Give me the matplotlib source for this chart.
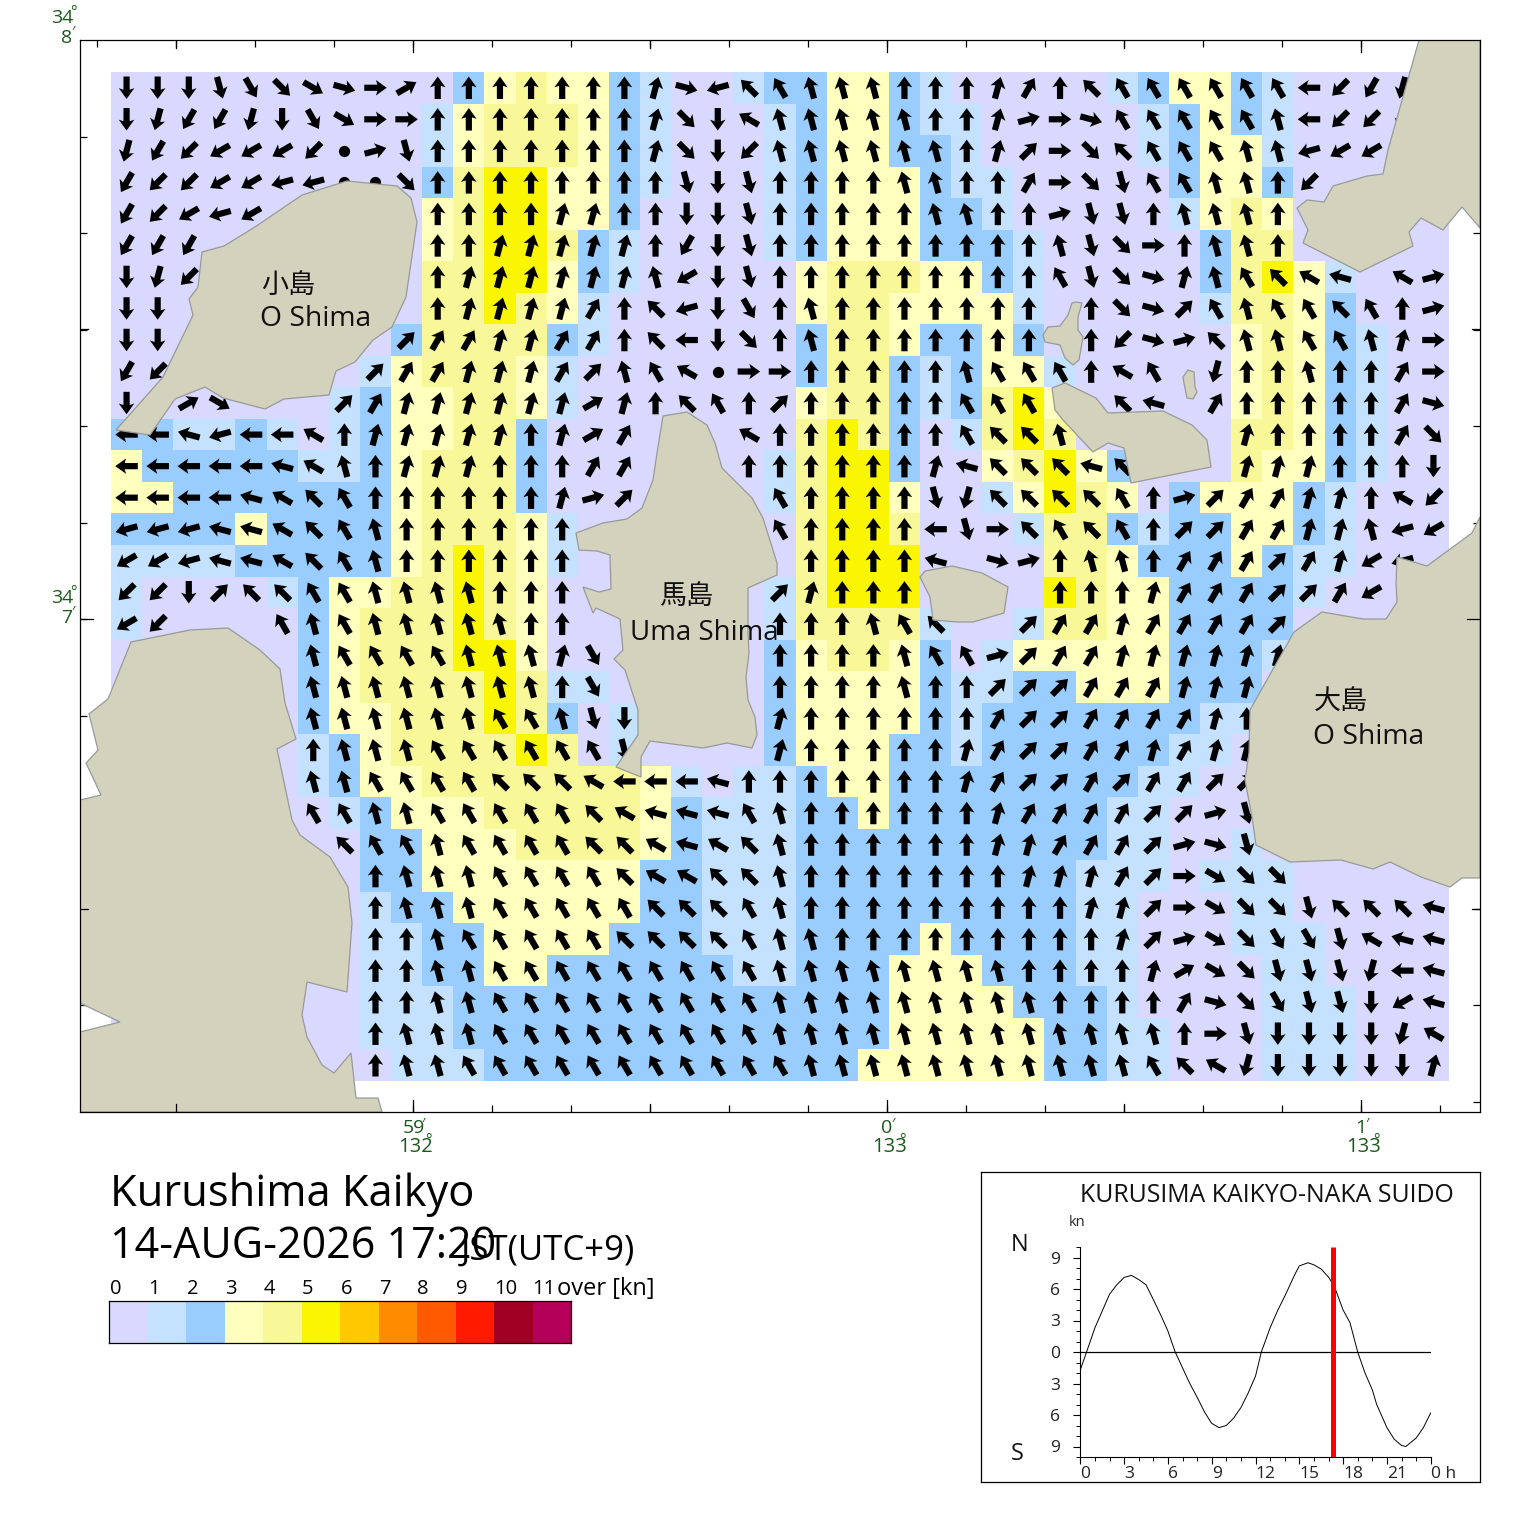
import numpy as np
import matplotlib
matplotlib.use("Agg")
import matplotlib.pyplot as plt
from matplotlib.colors import ListedColormap, BoundaryNorm
from matplotlib.patches import Polygon

plt.rcParams['font.family'] = ['Open Sans', 'Noto Sans CJK JP', 'DejaVu Sans']

W, H = 1520, 1533

# speed class of each cell (0 = 0-1 kn, 1 = 1-2 kn, ...)
speed_rows = [
    "00000000000" "2" "3" "4" "33" "2" "1" "00" "1" "22" "33" "2" "1" "00000" "1" "2" "33" "2" "1" "00000",
    "0000000000" "1" "3" "44" "4" "3" "2" "1" "000" "1" "2" "33" "2" "1" "1" "0" "0000" "1" "2" "3" "2" "1" "00000",
    "0000000000" "1" "3" "44" "4" "3" "2" "1" "000" "1" "2" "33" "22" "1" "0" "0000" "1" "2" "33" "1" "00000",
    "0000000000" "2" "4" "55" "3" "3" "2" "1" "000" "1" "2" "333" "2" "11" "00000" "2" "33" "2" "00000",
    "0000000000" "3" "4" "55" "33" "2" "0000" "1" "2" "333" "22" "1" "00000" "1" "3" "4" "3" "00000",
    "0000000000" "3" "4" "55" "4" "2" "1" "0000" "1" "2" "333" "222" "1" "00000" "2" "44" "00000",
    "0000000000" "44" "55" "3" "2" "1" "00000" "3" "444" "33" "2" "1" "00000" "2" "4" "5" "3" "1" "000",
    "0000000000" "44" "5" "4" "3" "1" "000000" "3" "44" "3333" "1" "00000" "1" "44" "3" "2" "000",
    "000000000" "2" "4444" "2" "1" "000000" "2" "44" "3" "22" "3" "2" "000000" "3" "4" "3" "2" "1" "00",
    "00000000" "1" "3" "444" "3" "1" "0000000" "2" "44" "2" "1" "2" "33" "1" "00000" "3" "4" "3" "2" "1" "00",
    "0000000" "1" "2" "33" "44" "3" "1" "0000000" "3" "44" "2" "1" "2" "4" "5" "3" "00000" "3" "4" "3" "2" "1" "00",
    "22" "11" "2" "1" "0" "1" "2" "33" "44" "2" "00000000" "4" "5" "4" "2" "0" "1" "4" "5" "4" "00000" "44" "3" "2" "1" "00",
    "3" "22222" "11" "2" "3" "444" "2" "0000000" "1" "4" "55" "2" "00" "3" "4" "5" "3" "2" "000" "4" "33" "2" "1" "00",
    "33" "2222222" "3" "444" "2" "0000000" "1" "4" "55" "3" "00" "1" "3" "5" "4" "3" "0" "2" "333" "2" "1" "000",
    "2222" "3" "2222" "3" "444" "3" "1" "000000" "0" "4" "55" "4" "000" "1" "44" "2" "1" "22" "33" "2" "1" "000",
    "1111" "22222" "3" "4" "5" "4" "3" "1" "000000" "0" "4" "555" "000" "0" "44" "3" "2" "22" "3" "2" "11" "000",
    "1" "0000" "1" "2" "33" "44" "5" "4" "3" "0" "000000" "1" "4" "555" "000" "0" "5" "4" "33" "2222" "1" "0000",
    "1" "00000" "2" "3" "444" "5" "4" "3" "0" "000000" "1" "4444" "1" "00" "1" "44" "33" "2222" "00000",
    "000000" "2" "3" "444" "55" "3" "0" "000000" "2" "3" "44" "3" "2" "0" "1" "33333" "222" "1" "00000",
    "000000" "2" "3" "4444" "5" "4" "11" "00000" "2" "3333" "2" "11" "22" "333" "222" "000000",
    "000000" "2" "33" "444" "5" "4" "2" "0" "1" "0000" "2" "3333" "2" "1" "2222222" "11" "000000",
    "000000" "1" "2" "3" "4444" "5" "4" "0" "1" "0000" "2" "333" "22" "1" "222222" "11" "0" "000000",
    "000000" "1" "2" "33" "4444444" "3" "1" "0" "11" "2" "33" "22222222" "11" "00000000",
    "0000000" "1" "2" "333" "44444" "3" "2" "111" "22" "3" "2222222" "11" "000000000",
    "00000000" "22" "333" "4444" "3" "2" "111" "2222222222" "11" "00" "1" "000000",
    "00000000" "22" "3333333" "22" "111" "222222222" "111" "0" "111" "00000",
    "00000000" "1" "22" "333333" "22" "111" "222222222" "11" "000" "11" "00000",
    "00000000" "11" "22" "3333" "222" "111" "2222" "3" "2222" "11" "000" "111" "0000",
    "00000000" "11" "22" "33" "222222" "11" "222" "333" "222" "11" "0000" "11" "0000",
    "00000000" "111" "2222222222" "2222" "3333" "222" "1" "0000" "111" "000",
    "00000000" "111" "2222222222" "2222" "33333" "22" "11" "000" "111" "000",
    "000000000" "111" "222222222" "222" "333333" "22" "11" "000" "111" "000",
]

# flow direction of each cell: a = north, then 15 degrees per letter clockwise
# '.' no arrow, '*' slack water dot
dir_rows = [
    "mmmlkjihgeaaaa" "aaabhrvwxxxaaab" "cavwwwwwwspon.",
    "mnoonmkiggaaaa" "aaabjmuxxxxxaab" "fghwwwwwxsppn.",
    "nopqqqp*flaaaa" "aaabjmpxxxxxxab" "dgjvwwwxxrqq..",
    "oppqqrr**jaaaa" "aaaalmlaaaaxxaa" "cgjlwwxxap....",
    "opqrq.....aaaa" "bbaammlaaaaaxxa" "afllaxxxa.....",
    "ooo.......aabb" "bbbaomlaaaaaaaa" "axljgaxxa.....",
    "mnp.......abbb" "bbbxqmlaaaaaaaa" "awljhbxwvut.uf",
    "mm........abbb" "bcavrmkaxaaaaaa" "a.ajhdwxwwvwaf",
    "mm.......dccbb" "ccavsmjaxaaaaaa" "a.aphfvxxwwxbg",
    "op......dccbbb" "cdxwu*ggaaaaaxw" "wwauw.naaxaacg",
    "m.ei...dcbbbbb" "bebavwadaaaaaww" "w..vt.caaaaach",
    "sstrssuabbbbba" "bec...uaaaaaawv" "vx.....baaaacj",
    "ssssstuxabbbaa" "acc...aaaaaabtv" "vvtv...bbbaaam",
    "sssstuvwaaaaaa" "bfd....waaaalnv" "vvvwafdccbbaup",
    "rrrttuvwxaaaaa" "a......waaaaslg" "vwvwaddccbbxrq",
    "qqrttuvwxaaaaa" "a.......aaaat.h" "faxxacccdcbqr.",
    "ppmdvvwwxxxxaa" "a......dbaaa..." ".aaabcccddcq..",
    "qp...wxwxxxxxa" "a......aaaxwv.." "dccbccccd.....",
    "......xwwwwxxx" "bk.....aaaaxwwf" "dccbbbbbb.....",
    "......xxxxxxxx" "ak.....aaaaxaad" "ddcccbbb......",
    "......xxxxxxww" "xlm....baaaaaac" "ddccccba......",
    "......axxxwwww" "wwl....baaaaabc" "ddccbcbb......",
    "......xxwwwwvv" "vussstaaaaaaabc" "ddcdccdd......",
    "......wwxxwwww" "wvutttwxaaaaaab" "ccccddfl......",
    ".......vwwxwww" "wvvutuvxaaaaaab" "bcccdfhl......",
    "........axxxww" "wwvuuvvxaaaaaaa" "bbbcdgijj.....",
    "........axxxww" "wwwvvvwxaaaaaaa" "aabbdgijjlvvvt",
    "........aaxwww" "wwvvvvwxxaaaaaa" "aaabdfijkklutt",
    "........aaxxww" "wwwwwwwxxxxxxxx" "aaaabeijlllnst",
    "........aaxxww" "wwwwwwwxxxxxxxx" "xaaaachjkllmqt",
    "........axxxww" "wwwwwwwxxxxxxxx" "xxxxxaglmmmmnu",
    "........axxwww" "wwwwwwwwxxxxxxx" "xxxxwvunmmmmmb",
]

speed_colors = ['#d9d9ff', '#c4e2ff', '#99ccff', '#ffffbe', '#f8f898', '#faf500',
                '#ffc800', '#ff8c00', '#ff5a00', '#ff1a00', '#a00024', '#b40058']
speed_labels = ['0', '1', '2', '3', '4', '5', '6', '7', '8', '9', '10', '11']

# coastlines, in image pixels
land_shapes = [
    # Ko Shima
    [(347, 181), (397, 186), (411, 198), (417, 222), (406, 297), (392, 327), (373, 340), (355, 362),
     (336, 371), (329, 395), (284, 399), (265, 409), (223, 398), (205, 387), (175, 399), (150, 435),
     (116, 430), (163, 377), (193, 315), (189, 299), (198, 287), (202, 252), (224, 246), (255, 227), (302, 195)],
    # top right
    [(1419, 40), (1480, 40), (1480, 228), (1462, 207), (1443, 230), (1421, 218), (1409, 232), (1413, 246),
     (1360, 272), (1303, 243), (1308, 230), (1297, 208), (1307, 200), (1324, 202), (1333, 186), (1367, 176),
     (1383, 174), (1388, 150)],
    # small islets
    [(1076, 302), (1082, 303), (1078, 317), (1078, 330), (1083, 337), (1079, 360), (1073, 365), (1065, 358),
     (1060, 345), (1045, 342), (1043, 335), (1048, 327), (1060, 326), (1068, 315), (1072, 303)],
    [(1188, 370), (1194, 372), (1195, 387), (1197, 392), (1193, 399), (1187, 398), (1184, 383), (1183, 377)],
    [(1052, 388), (1065, 383), (1096, 398), (1108, 413), (1163, 411), (1192, 425), (1207, 440), (1211, 467),
     (1131, 483), (1124, 448), (1108, 443), (1093, 452), (1063, 420), (1055, 410)],
    # Uma Shima
    [(663, 416), (687, 412), (707, 425), (715, 443), (722, 468), (752, 498), (763, 518), (777, 563), (777, 575),
     (748, 588), (748, 633), (749, 653), (746, 677), (748, 700), (755, 717), (757, 735), (752, 748), (727, 743),
     (703, 748), (650, 741), (641, 757), (641, 777), (616, 767), (638, 735), (638, 710), (625, 670), (614, 659),
     (623, 650), (620, 619), (596, 608), (593, 613), (583, 587), (599, 592), (611, 589), (610, 555), (597, 551),
     (579, 550), (576, 533), (603, 523), (627, 519), (642, 508), (653, 480), (657, 453)],
    [(920, 577), (925, 571), (952, 566), (982, 573), (1008, 587), (1004, 613), (973, 622), (957, 622), (933, 620), (930, 597)],
    # O Shima, right
    [(1480, 517), (1472, 533), (1427, 566), (1397, 557), (1396, 583), (1397, 602), (1386, 619), (1363, 619),
     (1322, 612), (1294, 632), (1250, 710), (1249, 753), (1245, 780), (1252, 817), (1256, 845), (1290, 862),
     (1341, 860), (1373, 869), (1390, 862), (1421, 877), (1450, 887), (1462, 878), (1480, 878)],
    # bottom left
    [(80, 800), (101, 795), (86, 763), (98, 750), (89, 714), (108, 699), (131, 642), (190, 630), (228, 628),
     (260, 650), (280, 669), (285, 703), (296, 739), (277, 749), (292, 820), (300, 835), (330, 857), (348, 887),
     (352, 923), (347, 992), (307, 982), (302, 1015), (307, 1037), (322, 1065), (334, 1073), (351, 1053),
     (356, 1098), (378, 1098), (382, 1112), (80, 1112), (80, 1032), (120, 1022), (80, 1003)],
]

# tidal curve of the strait, knots (north positive)
tide_hours = [0, 0.43, 1, 1.5, 2, 2.5, 3, 3.5, 4, 4.5, 5, 5.5, 6, 6.5, 7, 7.5, 8, 8.5, 9, 9.5, 10, 10.5, 11, 11.5,
              12, 12.4, 13, 13.5, 14, 14.7, 15, 15.6, 16, 16.5, 17.05, 17.44, 18, 18.47, 19, 19.5, 20, 20.3, 21,
              21.5, 22, 22.3, 23, 23.5, 24]
tide_knots = [-1.7, 0, 2.3, 3.9, 5.5, 6.4, 7.1, 7.3, 6.9, 6.4, 5.0, 3.55, 2.0, 0, -1.5, -3.0, -4.3, -5.7, -6.8, -7.2,
              -7.0, -6.3, -5.3, -3.9, -2.3, 0, 2.3, 3.9, 5.3, 7.4, 8.2, 8.5, 8.3, 7.9, 7.05, 6.1, 4.0, 2.8, 0, -2.0,
              -3.6, -5.0, -7.2, -8.3, -8.9, -9.0, -8.2, -7.2, -5.8]
now_hour = 17 + 20 / 60


def px_axes(fig, left, top, right, bottom):
    return fig.add_axes([left / W, 1 - bottom / H, (right - left) / W, (bottom - top) / H])


fig = plt.figure(figsize=(W / 100, H / 100), dpi=100)

# main map, axes data are image pixels
ax = px_axes(fig, 80, 40, 1480, 1112)
ax.set_xlim(80, 1480)
ax.set_ylim(1112, 40)

cmap = ListedColormap(speed_colors)
norm = BoundaryNorm(np.arange(13) - 0.5, 12)

speeds = np.array([[int(c) for c in row] for row in speed_rows])
n_rows, n_cols = speeds.shape
x_edges = np.linspace(111, 1449, n_cols + 1)
y_edges = np.linspace(72, 1081, n_rows + 1)
ax.pcolormesh(x_edges, y_edges, speeds, cmap=cmap, norm=norm, zorder=1)

letters = "abcdefghijklmnopqrstuvwx"
xc = (x_edges[:-1] + x_edges[1:]) / 2
yc = (y_edges[:-1] + y_edges[1:]) / 2
ax_x, ax_y, ax_u, ax_v = [], [], [], []
dot_x, dot_y = [], []
for j, row in enumerate(dir_rows):
    for i, c in enumerate(row):
        if c == '*':
            dot_x.append(xc[i])
            dot_y.append(yc[j])
        elif c != '.':
            b = np.radians(letters.index(c) * 15)
            ax_x.append(xc[i])
            ax_y.append(yc[j])
            ax_u.append(22.5 * np.sin(b))
            ax_v.append(-22.5 * np.cos(b))

ax.quiver(ax_x, ax_y, ax_u, ax_v, angles='xy', scale_units='xy', scale=1, units='xy', pivot='mid',
          width=6.2, headwidth=2.5, headlength=1.75, headaxislength=1.5, color='black', zorder=2)
ax.scatter(dot_x, dot_y, s=50, color='black', zorder=2)

for shape in land_shapes:
    ax.add_patch(Polygon(shape, closed=True, facecolor='#d3d2bd', edgecolor='#999999', linewidth=0.9, zorder=3))

# ticks, every 10 seconds with longer ones at 30 s and 1 min
ax.set_xticks(np.arange(413 - 79 * 4, 1480, 79))
ax.set_yticks(np.arange(40 + 96.5, 1112, 96.5))
ax.tick_params(which='both', top=True, right=True, direction='in', length=5, width=0.9,
               labelbottom=False, labelleft=False)
for x in [413, 887, 1361]:
    for y0, y1 in [(40, 52), (1112, 1100)]:
        ax.plot([x, x], [y0, y1], color='black', lw=0.9, zorder=4)
for x in [176, 650, 1124]:
    for y0, y1 in [(40, 48), (1112, 1104)]:
        ax.plot([x, x], [y0, y1], color='black', lw=0.9, zorder=4)
for y in [619]:
    for x0, x1 in [(80, 93), (1480, 1467)]:
        ax.plot([x0, x1], [y, y], color='black', lw=0.9, zorder=4)
for y in [329, 909]:
    for x0, x1 in [(80, 88), (1480, 1472)]:
        ax.plot([x0, x1], [y, y], color='black', lw=0.9, zorder=4)
for s in ax.spines.values():
    s.set_linewidth(0.9)
    s.set_zorder(5)

place_kw = dict(color='#111111', va='center', ha='left', zorder=6)
ax.text(261, 286, '小島', fontsize=19.5, **place_kw)
ax.text(260, 319, 'O Shima', fontsize=20.3, **place_kw)
ax.text(659, 597, '馬島', fontsize=19.5, **place_kw)
ax.text(630, 633, 'Uma Shima', fontsize=20, **place_kw)
ax.text(1314, 702, '大島', fontsize=19.5, **place_kw)
ax.text(1313, 737, 'O Shima', fontsize=20.3, **place_kw)


def ftext(x, y, s, size, color='black', ha='left', va='center', **kw):
    fig.text(x / W, 1 - y / H, s, fontsize=size, color=color, ha=ha, va=va, **kw)


# graticule labels
green = '#1b5a1b'
ftext(62, 18, '34', 14, green, ha='center')
ftext(73, 13, '°', 11, green, ha='center')
ftext(67, 38, '8', 14, green, ha='center')
ftext(73, 33, "′", 11, green, ha='center')
ftext(62, 598, '34', 14, green, ha='center')
ftext(73, 593, '°', 11, green, ha='center')
ftext(67, 618, '7', 14, green, ha='center')
ftext(73, 613, "′", 11, green, ha='center')
for x, mins, deg in [(413, '59', '132'), (887, '0', '133'), (1361, '1', '133')]:
    ftext(x + 1 if mins == '59' else x, 1128, mins, 14, green, ha='center')
    ftext(x + 10 if mins == '59' else x + 6, 1124, "′", 11, green, ha='center')
    ftext(x + 3, 1147, deg, 14.5, green, ha='center')
    ftext(x + 15, 1141, '°', 11, green, ha='center')

# title block
ftext(110, 1195, 'Kurushima Kaikyo', 31.3)
ftext(110, 1247, '14-AUG-2026 17:20', 31)
ftext(461, 1251, 'JST(UTC+9)', 25)

# speed scale
cax = px_axes(fig, 109, 1301, 571.5, 1343)
cax.pcolormesh(np.arange(13), [0, 1], np.arange(12).reshape(1, -1), cmap=cmap, norm=norm)
cax.set_xticks([])
cax.set_yticks([])
for s in cax.spines.values():
    s.set_linewidth(0.9)
for i, lab in enumerate(speed_labels):
    ftext(110 + i * 38.4, 1289, lab, 14.5)
ftext(557, 1289, 'over [kn]', 17)

# tide box
box = px_axes(fig, 981, 1172, 1480, 1482)
box.set_xticks([])
box.set_yticks([])
for s in box.spines.values():
    s.set_linewidth(0.9)

tide = px_axes(fig, 1080.3, 1247, 1430.7, 1457)
tide.patch.set_alpha(0)
tide.set_xlim(0, 24)
tide.set_ylim(-10, 10)
tide.plot(tide_hours, tide_knots, color='black', lw=0.7)
tide.axhline(0, color='black', lw=0.9)
tide.plot([now_hour, now_hour], [-10, 10], color='#ff0000', lw=3.6, solid_capstyle='butt', zorder=5)
tide.set_xticks(np.arange(0, 25, 3))
tide.set_xticks(np.arange(0, 25, 1), minor=True)
tide.set_yticks(np.arange(-9, 10, 3))
tide.set_yticks(np.arange(-10, 11, 1), minor=True)
tide.tick_params(which='major', length=5, width=0.8, labelbottom=False, labelleft=False)
tide.tick_params(which='minor', length=3, width=0.7)
tide.spines['top'].set_visible(False)
tide.spines['right'].set_visible(False)

for h, lab in zip(range(0, 22, 3), ['0', '3', '6', '9', '12', '15', '18', '21']):
    ftext(1080.3 + h * 350.4 / 24, 1474, lab, 12.5, '#222222')
ftext(1430.7, 1474, '0 h', 12.5, '#222222')
for k in [9, 6, 3, 0, -3, -6, -9]:
    ftext(1060, 1354 - k * 10.5, str(abs(k)), 12.5, '#222222', ha='right')
ftext(1080, 1196, 'KURUSIMA KAIKYO-NAKA SUIDO', 17.9, '#111111')
ftext(1069, 1222, 'kn', 10.5, '#222222')
ftext(1011, 1245, 'N', 17, '#111111')
ftext(1011, 1454, 'S', 17, '#111111')

fig.savefig('out.png', dpi=100)
